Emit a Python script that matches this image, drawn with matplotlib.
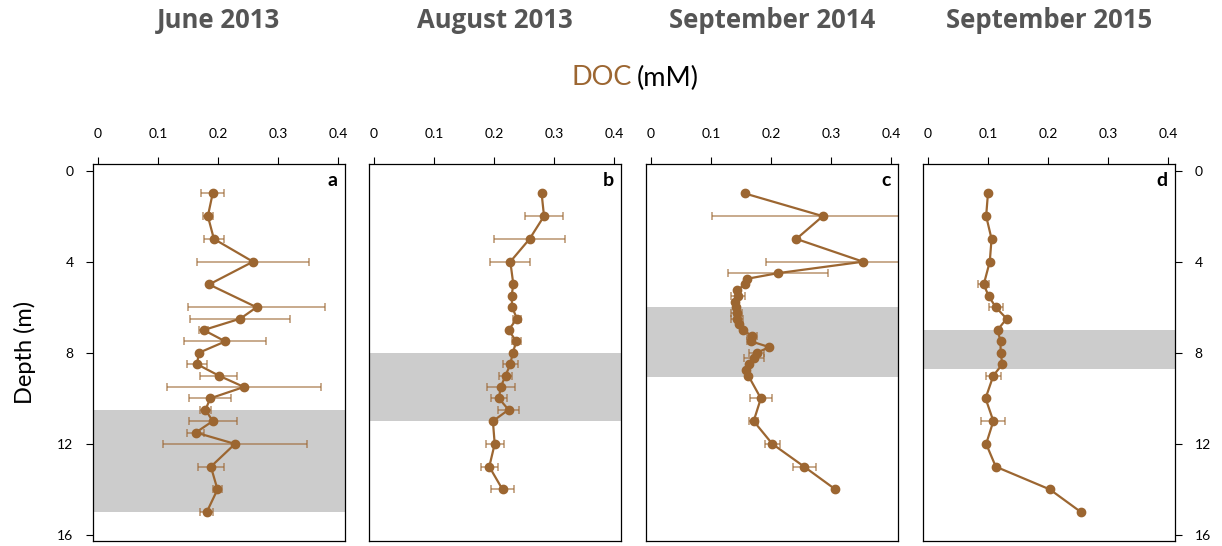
import numpy as np
import matplotlib
matplotlib.use('Agg')
import matplotlib.pyplot as plt

plt.rcParams['font.family'] = ['Lato', 'DejaVu Sans']

BROWN = '#9c6631'

# June 2013
depth_a = [1, 2, 3, 4, 5, 6, 6.5, 7, 7.5, 8, 8.5, 9, 9.5, 10, 10.5, 11, 11.5, 12, 13, 14, 15]
doc_a = [0.191, 0.183, 0.193, 0.258, 0.185, 0.264, 0.237, 0.176, 0.212, 0.168, 0.165,
         0.201, 0.243, 0.187, 0.179, 0.191, 0.163, 0.228, 0.188, 0.199, 0.181]
err_a = [0.019, 0.008, 0.016, 0.093, 0.0, 0.114, 0.083, 0.008, 0.068, 0.0, 0.016,
         0.031, 0.128, 0.035, 0.009, 0.040, 0.014, 0.120, 0.021, 0.007, 0.011]

# August 2013
depth_b = [1, 2, 3, 4, 5, 5.5, 6, 6.5, 7, 7.5, 8, 8.5, 9, 9.5, 10, 10.5, 11, 12, 13, 14]
doc_b = [0.279, 0.283, 0.259, 0.227, 0.232, 0.229, 0.230, 0.238, 0.224, 0.237, 0.231,
         0.227, 0.219, 0.211, 0.208, 0.224, 0.198, 0.201, 0.192, 0.214]
err_b = [0.0, 0.032, 0.059, 0.033, 0.0, 0.0, 0.0, 0.007, 0.0, 0.008, 0.0,
         0.012, 0.011, 0.023, 0.013, 0.018, 0.0, 0.015, 0.014, 0.019]

# September 2014
depth_c = [1, 2, 3, 4, 4.5, 4.75, 5, 5.25, 5.5, 5.75, 6, 6.25, 6.5, 6.75, 7, 7.25, 7.5,
           7.75, 8, 8.25, 8.5, 8.75, 9, 10, 11, 12, 13, 14]
doc_c = [0.156, 0.286, 0.242, 0.353, 0.212, 0.160, 0.156, 0.144, 0.145, 0.140, 0.141,
         0.143, 0.143, 0.147, 0.153, 0.168, 0.167, 0.197, 0.176, 0.172, 0.164, 0.158,
         0.162, 0.183, 0.171, 0.202, 0.255, 0.307]
err_c = [0.0, 0.184, 0.0, 0.161, 0.083, 0.0, 0.0, 0.0, 0.012, 0.0, 0.0,
         0.009, 0.010, 0.0, 0.0, 0.008, 0.007, 0.0, 0.013, 0.017, 0.0, 0.0,
         0.0, 0.018, 0.007, 0.012, 0.019, 0.0]

# September 2015
depth_d = [1, 2, 3, 4, 5, 5.5, 6, 6.5, 7, 7.5, 8, 8.5, 9, 10, 11, 12, 13, 14, 15]
doc_d = [0.100, 0.097, 0.106, 0.103, 0.093, 0.101, 0.113, 0.131, 0.116, 0.121, 0.121,
         0.124, 0.109, 0.096, 0.109, 0.097, 0.113, 0.203, 0.255]
err_d = [0.0, 0.0, 0.0, 0.0, 0.009, 0.0, 0.012, 0.0, 0.0, 0.0, 0.0,
         0.0, 0.012, 0.0, 0.020, 0.0, 0.0, 0.0, 0.0]

titles = ['June 2013', 'August 2013', 'September 2014', 'September 2015']
letters = ['a', 'b', 'c', 'd']
shade = [(10.5, 15), (8, 11), (6, 9.05), (7, 8.72)]
panels = [(depth_a, doc_a, err_a), (depth_b, doc_b, err_b),
          (depth_c, doc_c, err_c), (depth_d, doc_d, err_d)]

fig = plt.figure(figsize=(12.22, 5.46), dpi=100)
lefts = [93, 369, 646, 923]
W, H = 1222, 546
for i, (dep, val, err) in enumerate(panels):
    ax = fig.add_axes([lefts[i] / W, 1 - 540.7 / H, 252 / W, (540.7 - 164) / H])
    ax.axhspan(shade[i][0], shade[i][1], color='#cccccc', lw=0, zorder=0)
    dep = np.array(dep)
    val = np.array(val)
    err = np.array(err)
    m = err > 0
    ax.errorbar(val[m], dep[m], xerr=err[m], fmt='none', ecolor=BROWN, alpha=0.7,
                elinewidth=1.1, capsize=3, capthick=1.1, zorder=2)
    ax.plot(val, dep, '-o', color=BROWN, lw=1.6, ms=6, zorder=3)
    ax.set_xlim(-0.008, 0.411)
    ax.set_ylim(16.25, -0.29)
    ax.set_xticks([0, 0.1, 0.2, 0.3, 0.4])
    ax.set_xticklabels(['0', '0.1', '0.2', '0.3', '0.4'])
    ax.set_yticks([0, 4, 8, 12, 16])
    ax.xaxis.tick_top()
    ax.tick_params(axis='x', direction='out', length=5, pad=12, labelsize=10)
    ax.tick_params(axis='y', direction='out', length=5, pad=9, labelsize=10)
    if i == 0:
        ax.yaxis.tick_left()
    elif i == 3:
        ax.yaxis.tick_right()
    else:
        ax.tick_params(axis='y', left=False, labelleft=False)
    for s in ax.spines.values():
        s.set_linewidth(0.9)
    ax.text(0.97, 0.955, letters[i], transform=ax.transAxes, ha='right', va='center',
            fontsize=14, fontweight='bold')
    fig.text((lefts[i] + 126) / W, 1 - 21 / H, titles[i], ha='center', va='center',
             fontsize=18.5, fontweight='bold', color='#555555',
             family=['Open Sans', 'DejaVu Sans'])

fig.text(632 / W, 1 - 78 / H, 'DOC', ha='right', va='center', fontsize=19.5, color=BROWN)
fig.text(637 / W, 1 - 78 / H, '(mM)', ha='left', va='center', fontsize=19.5, color='black')
fig.text(25 / W, 1 - 352 / H, 'Depth (m)', ha='center', va='center', rotation=90,
         fontsize=17)

fig.savefig('out.png', dpi=100)
